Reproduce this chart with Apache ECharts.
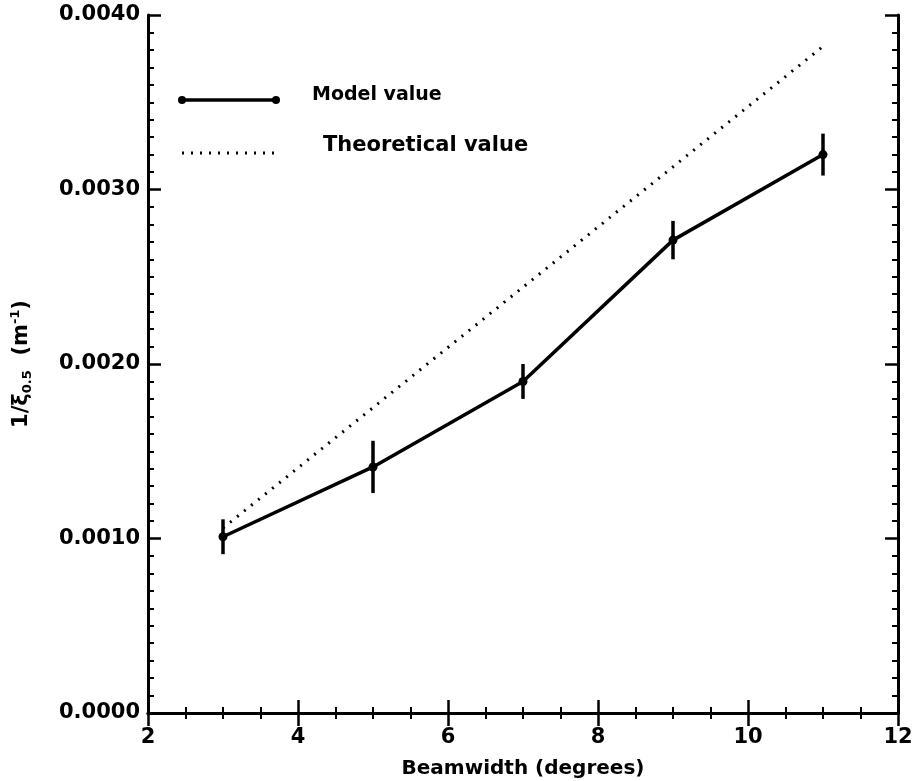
<!DOCTYPE html>
<html>
<head>
<meta charset="utf-8">
<script src="https://cdn.jsdelivr.net/npm/echarts@6/dist/echarts.min.js"></script>
<style>
  html, body { margin: 0; padding: 0; background: #fff; }
  #chart { width: 916px; height: 781px; }
</style>
</head>
<body>
<div id="chart"></div>
<script>
// Beamwidth (degrees)
const beamwidth = [3, 5, 7, 9, 11];
// Model value of 1/xi_0.5 (m^-1) and its error half-widths
const modelValue = [0.00101, 0.00141, 0.00190, 0.00271, 0.00320];
const modelError = [0.00010, 0.00015, 0.00010, 0.00011, 0.00012];
// Theoretical value of 1/xi_0.5 (m^-1)
const theoreticalValue = [0.00106, 0.00175, 0.00244, 0.00313, 0.00382];

const yTicks = [0, 0.001, 0.002, 0.003, 0.004];
const xTicks = [2, 4, 6, 8, 10, 12];

const FONT = '"DejaVu Sans", sans-serif';
const INK = '#000';

const modelPoints = beamwidth.map((x, i) => [x, modelValue[i]]);
const theoryPoints = beamwidth.map((x, i) => [x, theoreticalValue[i]]);
const errorData = beamwidth.map((x, i) => [x, modelValue[i] - modelError[i], modelValue[i] + modelError[i]]);

const axisLine = { show: true, lineStyle: { color: INK, width: 3 } };
const axisTick = { show: true, inside: true, length: 13, lineStyle: { color: INK, width: 2.5 } };
const minorX = { show: true, splitNumber: 4, length: 6, lineStyle: { color: INK, width: 2 } };
const minorY = { show: true, splitNumber: 10, length: 6, lineStyle: { color: INK, width: 2 } };

const chart = echarts.init(document.getElementById('chart'), null, { renderer: 'canvas' });

chart.setOption({
  backgroundColor: '#fff',
  animation: false,
  grid: { left: 148, right: 18, top: 15, bottom: 68, containLabel: false, outerBoundsMode: 'none' },
  xAxis: [
    {
      type: 'value', min: xTicks[0], max: xTicks[xTicks.length - 1], interval: 2,
      axisLine, axisTick, minorTick: minorX, splitLine: { show: false },
      axisLabel: { color: INK, fontFamily: FONT, fontWeight: 'bold', fontSize: 21, margin: 14 },
      name: 'Beamwidth (degrees)', nameLocation: 'middle', nameGap: 46,
      nameTextStyle: { color: INK, fontFamily: FONT, fontWeight: 'bold', fontSize: 20 }
    },
    {
      type: 'value', position: 'top', min: xTicks[0], max: xTicks[xTicks.length - 1], interval: 2,
      axisLine, axisTick, minorTick: minorX, splitLine: { show: false },
      axisLabel: { show: false }
    }
  ],
  yAxis: [
    {
      type: 'value', min: yTicks[0], max: yTicks[yTicks.length - 1], interval: 0.001,
      axisLine, axisTick, minorTick: minorY, splitLine: { show: false },
      axisLabel: {
        color: INK, fontFamily: FONT, fontWeight: 'bold', fontSize: 21, margin: 8,
        formatter: v => v.toFixed(4)
      },
      name: '{a|1/ξ}{s|0.5}{a|  (m}{p|-1}{a|)}',
      nameLocation: 'middle', nameGap: 114, nameRotate: 90,
      nameTextStyle: {
        color: INK,
        rich: {
          a: { fontFamily: FONT, fontWeight: 'bold', fontSize: 21, color: INK },
          s: { fontFamily: FONT, fontWeight: 'bold', fontSize: 13, color: INK, verticalAlign: 'bottom', padding: [12, 0, 0, 0] },
          p: { fontFamily: FONT, fontWeight: 'bold', fontSize: 13, color: INK, verticalAlign: 'top', padding: [0, 0, 12, 0] }
        }
      }
    },
    {
      type: 'value', position: 'right', min: yTicks[0], max: yTicks[yTicks.length - 1], interval: 0.001,
      axisLine, axisTick, minorTick: minorY, splitLine: { show: false },
      axisLabel: { show: false }
    }
  ],
  series: [
    {
      name: 'Theoretical value',
      type: 'line',
      data: theoryPoints,
      showSymbol: false,
      lineStyle: { color: INK, width: 3, type: [2, 7] },
      z: 2
    },
    {
      name: 'Model value',
      type: 'line',
      data: modelPoints,
      symbol: 'circle',
      symbolSize: 9,
      itemStyle: { color: INK },
      lineStyle: { color: INK, width: 3.5 },
      z: 3
    },
    {
      name: 'error',
      type: 'custom',
      data: errorData,
      renderItem: function (params, api) {
        const x = api.value(0);
        const lo = api.coord([x, api.value(1)]);
        const hi = api.coord([x, api.value(2)]);
        return {
          type: 'line',
          shape: { x1: lo[0], y1: lo[1], x2: hi[0], y2: hi[1] },
          style: { stroke: INK, lineWidth: 3.5 }
        };
      },
      z: 4
    }
  ],
  graphic: [
    { type: 'line', shape: { x1: 182, y1: 100, x2: 276, y2: 100 }, style: { stroke: INK, lineWidth: 3.5 } },
    { type: 'circle', shape: { cx: 182, cy: 100, r: 4 }, style: { fill: INK } },
    { type: 'circle', shape: { cx: 276, cy: 100, r: 4 }, style: { fill: INK } },
    { type: 'text', x: 312, y: 95, style: { text: 'Model value', fill: INK, font: 'bold 19px "DejaVu Sans", sans-serif', verticalAlign: 'middle' } },
    { type: 'line', shape: { x1: 182, y1: 153, x2: 276, y2: 153 }, style: { stroke: INK, lineWidth: 3, lineDash: [2, 7] } },
    { type: 'text', x: 323, y: 146, style: { text: 'Theoretical value', fill: INK, font: 'bold 21px "DejaVu Sans", sans-serif', verticalAlign: 'middle' } }
  ]
});
</script>
</body>
</html>
